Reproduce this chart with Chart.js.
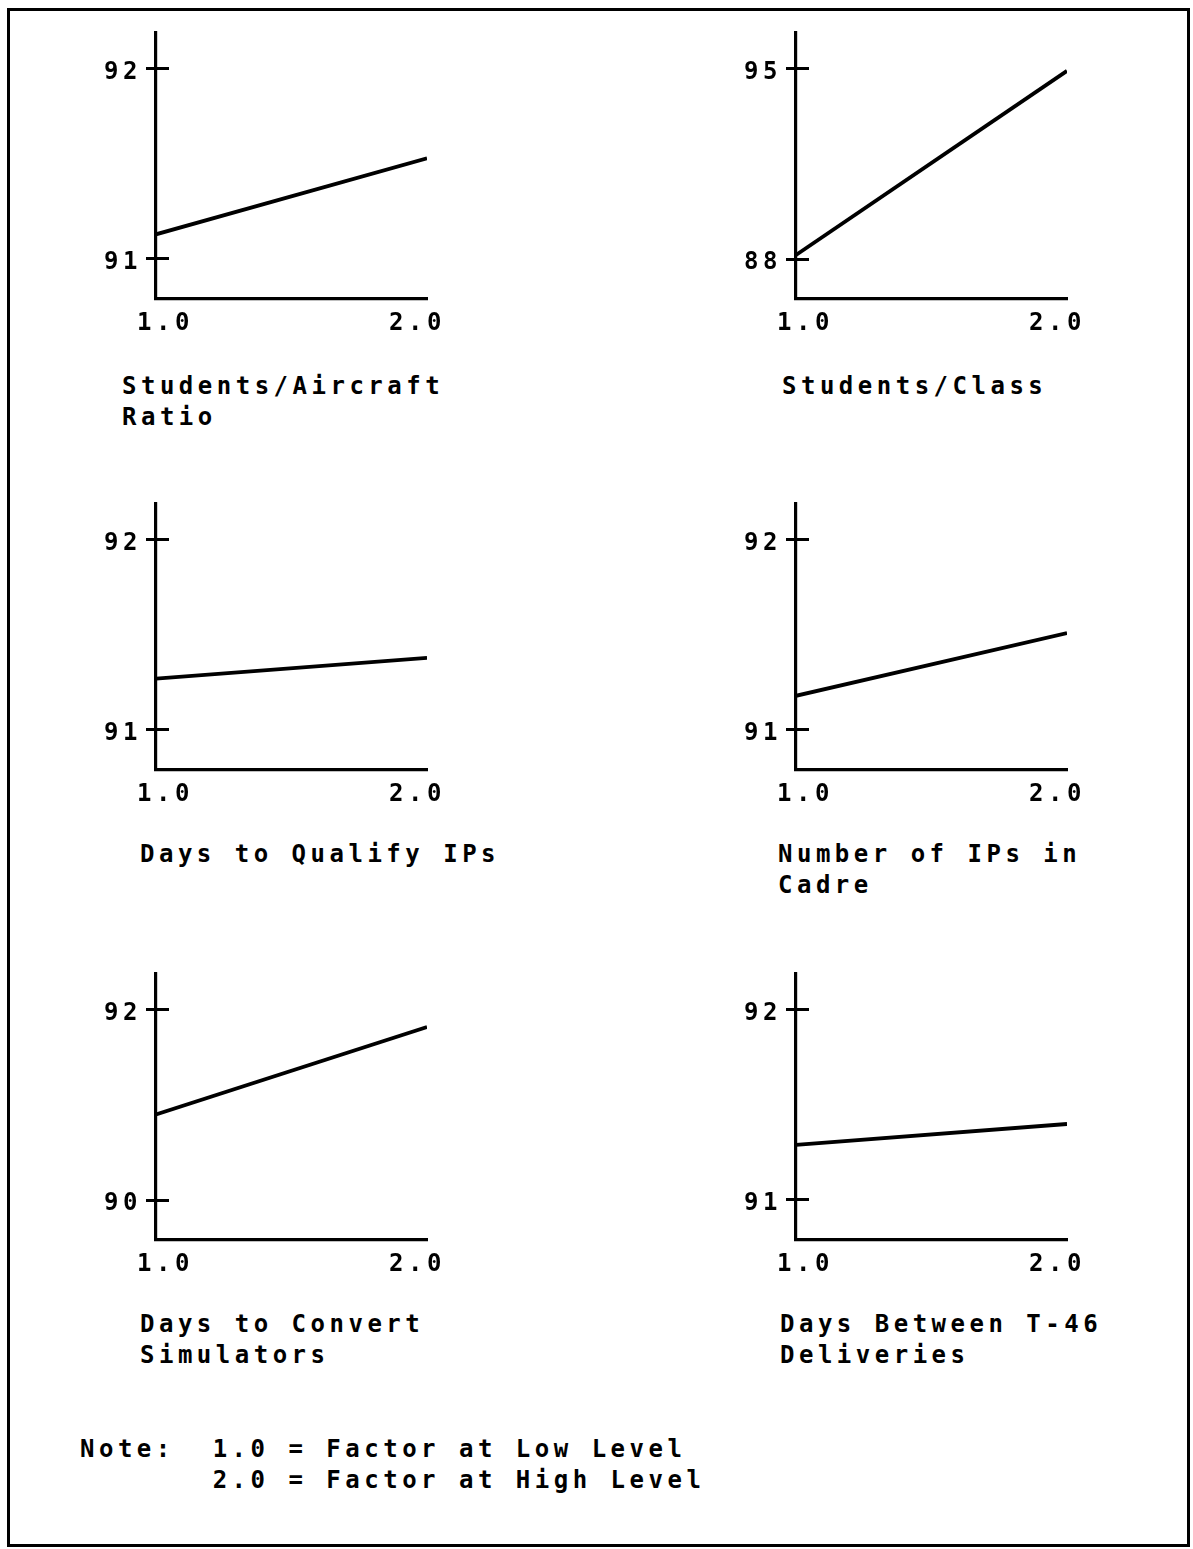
<!DOCTYPE html>
<html>
<head>
<meta charset="utf-8">
<script src="https://cdn.jsdelivr.net/npm/chart.js@4.4.0/dist/chart.umd.min.js"></script>
<style>
  html, body { margin: 0; padding: 0; background: #fff; }
  body {
    width: 1193px; height: 1549px; position: relative; overflow: hidden;
    font-family: "DejaVu Sans Mono", monospace; font-weight: bold;
    font-size: 24px; letter-spacing: 4.5px; color: #000;
  }
  #frame { position: absolute; left: 7px; top: 8px; width: 1177px; height: 1533px; border: 3px solid #000; }
  canvas { position: absolute; }
  .caption { position: absolute; line-height: 31px; white-space: pre; }
</style>
</head>
<body>
<div id="frame"></div>
<script>
// one panel per factor, response at low (1.0) and high (2.0) level
var factors = [
  ['Students/Aircraft', 'Ratio'],
  ['Students/Class'],
  ['Days to Qualify IPs'],
  ['Number of IPs in', 'Cadre'],
  ['Days to Convert', 'Simulators'],
  ['Days Between T-46', 'Deliveries']
];
var levels = [1.0, 2.0];
var levelLabels = ['1.0', '2.0'];
var lowValues = [91.13, 88.15, 91.27, 91.18, 90.90, 91.29];
var highValues = [91.53, 94.93, 91.38, 91.51, 91.82, 91.40];
var yTickValues = [[91, 92], [88, 95], [91, 92], [91, 92], [90, 92], [91, 92]];
var noteLines = ['Note:  1.0 = Factor at Low Level', '       2.0 = Factor at High Level'];

// page layout (chart area corners in page pixels)
var colLeft = [156, 796];
var rowTop = [33, 504, 974];
var captionTop = [371, 839, 1309];
var captionLeft = [122, 782, 140, 778, 140, 780];
var areaW = 271, areaH = 266;
var padL = 62, padR = 40, padT = 6, padB = 44;

var tickFont = { family: '"DejaVu Sans Mono", monospace', size: 24, weight: 'bold' };

// canvas text has no css letter-spacing, so set it on the context
var spacing = {
  id: 'spacing',
  beforeLayout: function(chart) { chart.ctx.letterSpacing = '4.5px'; },
  beforeDraw: function(chart) { chart.ctx.letterSpacing = '4.5px'; }
};

for (var i = 0; i < factors.length; i++) {
  var col = i % 2, row = Math.floor(i / 2);

  var canvas = document.createElement('canvas');
  canvas.width = padL + areaW + padR;
  canvas.height = padT + areaH + padB;
  canvas.style.left = (colLeft[col] - padL) + 'px';
  canvas.style.top = (rowTop[row] - padT) + 'px';
  document.body.appendChild(canvas);

  var cap = document.createElement('div');
  cap.className = 'caption';
  cap.style.left = captionLeft[i] + 'px';
  cap.style.top = captionTop[row] + 'px';
  cap.textContent = factors[i].join('\n');
  document.body.appendChild(cap);

  var lo = yTickValues[i][0], hi = yTickValues[i][1], span = hi - lo;
  var yMin = lo - span * 40 / 190;
  var yMax = hi + span * 36 / 190;
  var tickVals = yTickValues[i];

  var setYTicks = (function(vals) {
    return function(s) { s.ticks = vals.map(function(v) { return { value: v }; }); };
  })(tickVals);

  new Chart(canvas, {
    type: 'line',
    data: {
      datasets: [{
        data: [
          { x: levels[0], y: lowValues[i] },
          { x: levels[1], y: highValues[i] }
        ],
        borderColor: '#000',
        borderWidth: 3.8,
        pointRadius: 0,
        tension: 0
      }]
    },
    options: {
      responsive: false,
      animation: false,
      events: [],
      layout: { padding: { left: 0, top: padT, right: padR, bottom: 0 } },
      plugins: { legend: { display: false }, tooltip: { enabled: false } },
      scales: {
        x: {
          type: 'linear', min: levels[0], max: levels[1],
          afterBuildTicks: function(s) { s.ticks = levels.map(function(v) { return { value: v }; }); },
          afterFit: function(s) { s.height = padB; s.paddingLeft = 0; s.paddingRight = 0; },
          grid: { drawOnChartArea: false, drawTicks: false },
          border: { color: '#000', width: 3.2 },
          ticks: {
            autoSkip: false, maxRotation: 0, color: '#000', font: tickFont, padding: 10,
            // labels sit a little inside the axis ends
            callback: function(v, j) { return j === 0 ? ' ' + levelLabels[j] : levelLabels[j] + ' '; }
          }
        },
        y: {
          type: 'linear', position: 'left', min: yMin, max: yMax,
          afterBuildTicks: setYTicks,
          afterFit: function(s) { s.width = padL; s.paddingTop = 0; s.paddingBottom = 0; },
          grid: { drawOnChartArea: false, tickLength: 10, tickWidth: 3, tickColor: '#000' },
          border: { color: '#000', width: 3.2 },
          ticks: { color: '#000', font: tickFont, padding: 4, labelOffset: 4, callback: function(v) { return String(v); } }
        },
        // second copy of the y scale on the axis line, ticks pointing inwards -> "+" marks
        yIn: {
          type: 'linear', axis: 'y', position: { x: levels[0] }, min: yMin, max: yMax,
          afterBuildTicks: setYTicks,
          afterFit: function(s) { s.width = 0; s.paddingTop = 0; s.paddingBottom = 0; },
          grid: { drawOnChartArea: false, tickLength: -13, tickWidth: 3, tickColor: '#000' },
          border: { display: false },
          ticks: { display: false }
        }
      }
    },
    plugins: [spacing]
  });
}

var note = document.createElement('div');
note.className = 'caption';
note.style.left = '80px';
note.style.top = '1434px';
note.textContent = noteLines.join('\n');
document.body.appendChild(note);
</script>
</body>
</html>
